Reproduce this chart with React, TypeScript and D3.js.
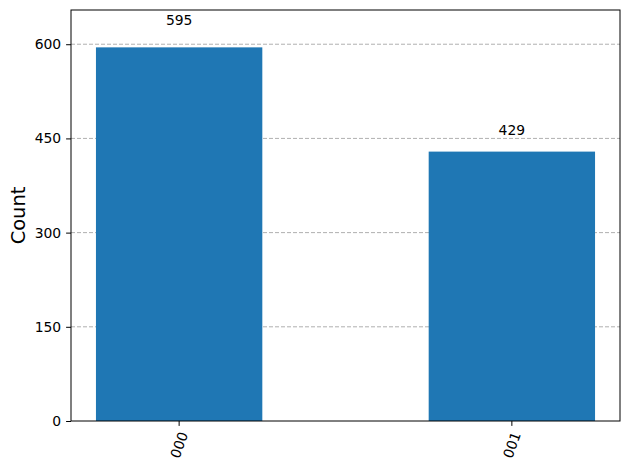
import { useEffect, useRef } from 'react';
import * as d3 from 'd3';

const states = ['000', '001'];
const counts = [595, 429];
const yTicks = [0, 150, 300, 450, 600];

const W = 630;
const H = 470;
const margin = { top: 10, right: 10, bottom: 49, left: 71 };
const FONT = 'DejaVu Sans, sans-serif';
const FS = 13.9;

export default function App() {
  const ref = useRef<SVGSVGElement | null>(null);
  useEffect(() => {
    const svg = d3.select(ref.current!);
    svg.selectAll('*').remove();
    const iw = W - margin.left - margin.right;
    const ih = H - margin.top - margin.bottom;
    const g = svg.append('g').attr('transform', `translate(${margin.left},${margin.top})`);

    const barW = 0.5;
    const x = d3.scaleLinear().domain([-0.325, states.length - 1 + 0.325]).range([0, iw]);
    const ymax = (d3.max(counts) || 1) * 1.1;
    const y = d3.scaleLinear().domain([0, ymax]).range([ih, 0]);

    // grid
    g.selectAll('.grid').data(yTicks.filter((t) => t > 0)).enter().append('line')
      .attr('x1', 0).attr('x2', iw).attr('y1', (d) => y(d)).attr('y2', (d) => y(d))
      .attr('stroke', '#b0b0b0').attr('stroke-width', 1).attr('stroke-dasharray', '4,2');

    // bars
    g.selectAll('.bar').data(counts).enter().append('rect')
      .attr('x', (_, i) => x(i - barW / 2))
      .attr('width', (_, i) => x(i + barW / 2) - x(i - barW / 2))
      .attr('y', (d) => y(d)).attr('height', (d) => ih - y(d))
      .attr('fill', '#1f77b4');

    // value labels
    g.selectAll('.val').data(counts).enter().append('text')
      .attr('x', (_, i) => x(i)).attr('y', (d) => y(d * 1.05) - 3.3)
      .attr('text-anchor', 'middle').attr('font-family', FONT).attr('font-size', FS)
      .attr('fill', '#000').text((d) => String(d));

    // frame
    g.append('rect').attr('x', 0).attr('y', 0).attr('width', iw).attr('height', ih)
      .attr('fill', 'none').attr('stroke', '#000').attr('stroke-width', 1);

    // y axis
    const yAxis = g.append('g').call(d3.axisLeft(y).tickValues(yTicks).tickSize(4.9).tickPadding(4.9).tickSizeOuter(0));
    yAxis.select('.domain').remove();
    yAxis.selectAll('.tick line').attr('stroke', '#000');
    yAxis.selectAll('text').attr('font-family', FONT).attr('font-size', FS).attr('fill', '#000');

    // x axis
    const xa = g.append('g').attr('transform', `translate(0,${ih})`);
    states.forEach((s, i) => {
      xa.append('line').attr('x1', x(i)).attr('x2', x(i)).attr('y1', 0).attr('y2', 4.9).attr('stroke', '#000');
      xa.append('text')
        .attr('transform', `translate(${x(i)},${24}) rotate(-70)`)
        .attr('text-anchor', 'middle').attr('dominant-baseline', 'central')
        .attr('font-family', FONT).attr('font-size', FS).attr('fill', '#000').text(s);
    });

    // y label
    svg.append('text')
      .attr('transform', `translate(${18},${margin.top + ih / 2}) rotate(-90)`)
      .attr('text-anchor', 'middle').attr('dominant-baseline', 'central')
      .attr('font-family', FONT).attr('font-size', 19.4).attr('fill', '#000').text('Count');
  }, []);
  return (
    <svg ref={ref} width={W} height={H}
      style={{ position: 'absolute', left: 0, top: 0, background: '#fff' }} />
  );
}
